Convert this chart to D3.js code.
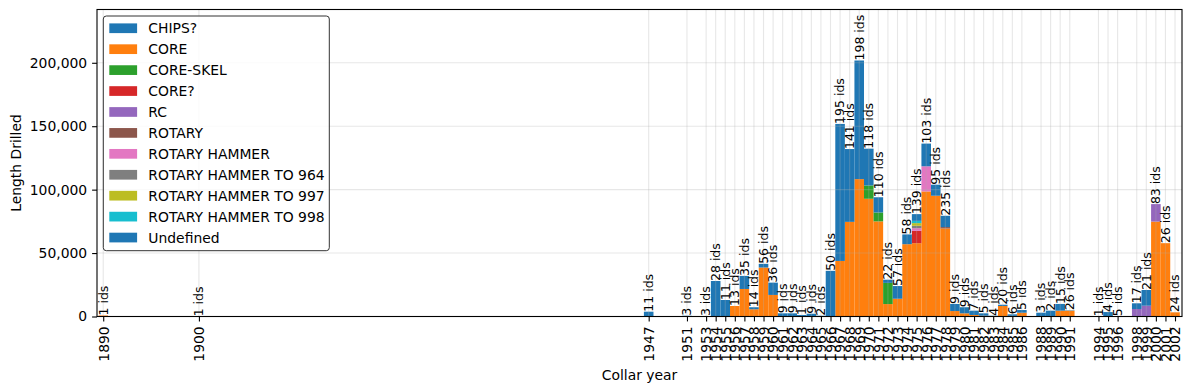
<!DOCTYPE html>
<html>
<head>
<meta charset="utf-8">
<script src="https://cdn.jsdelivr.net/npm/d3@7"></script>
<style>
  body { margin: 0; background: #fff; }
  text { font-family: "DejaVu Sans", sans-serif; }
</style>
</head>
<body>
<div id="chart"></div>
<script>
// collar years that have holes
var years = [1890, 1900, 1947, 1951, 1953, 1954, 1955, 1956, 1957, 1958,
             1959, 1960, 1961, 1962, 1963, 1964, 1965, 1966, 1967, 1968,
             1969, 1970, 1971, 1972, 1973, 1974, 1975, 1976, 1977, 1978,
             1979, 1980, 1981, 1982, 1983, 1984, 1985, 1986, 1988, 1989,
             1990, 1991, 1994, 1995, 1996, 1998, 1999, 2000, 2001, 2002];

// number of hole ids per year
var idCounts = [1, 1, 11, 3, 3, 28, 11, 13, 35, 14,
                56, 36, 9, 9, 1, 9, 2, 50, 195, 141,
                198, 118, 110, 22, 57, 58, 139, 103, 95, 235,
                9, 9, 7, 5, 4, 20, 6, 5, 3, 2,
                15, 26, 1, 4, 5, 17, 21, 83, 26, 24];

var drillTypes = ["CHIPS?", "CORE", "CORE-SKEL", "CORE?", "RC", "ROTARY",
                  "ROTARY HAMMER", "ROTARY HAMMER TO 964", "ROTARY HAMMER TO 997",
                  "ROTARY HAMMER TO 998", "Undefined"];

var typeColors = ["#1f77b4", "#ff7f0e", "#2ca02c", "#d62728", "#9467bd", "#8c564b",
                  "#e377c2", "#7f7f7f", "#bcbd22", "#17becf", "#1f77b4"];

// length drilled per year (same order as years)
var coreLen = [800, 0, 0, 0, 0, 0, 0, 8300, 21700, 5700,
               38600, 17000, 0, 0, 0, 0, 0, 0, 43800, 74600,
               108300, 92800, 75000, 9800, 14000, 57000, 57800, 98600, 95200, 69400,
               4300, 2500, 1200, 600, 0, 8300, 500, 3000, 0, 0,
               4600, 4600, 0, 0, 0, 0, 0, 74800, 57800, 3300];

var undefinedLen = [0, 100, 3800, 600, 300, 28000, 13000, 0, 10300, 1600,
                    2900, 9700, 2500, 2500, 1200, 2200, 600, 36000, 108000, 57400,
                    93500, 29000, 12000, 2500, 10000, 7700, 5300, 17900, 8700, 8900,
                    5600, 4800, 3400, 1900, 600, 1000, 1200, 2100, 3000, 4600,
                    5300, 300, 200, 3500, 200, 4500, 12400, 0, 0, 0];

// the smaller types, by year
var chipsLen = {};
var coreSkelLen = {1970: 10500, 1971: 7000, 1972: 16700};
var coreQLen = {1975: 9700};
var rcLen = {1998: 5900, 1999: 8500, 2000: 13800};
var rotaryLen = {1978: 1100};
var rotaryHammerLen = {1975: 2100, 1976: 19800};
var rh964Len = {1975: 1900};
var rh997Len = {1975: 2100};
var rh998Len = {1975: 1800};

var width = 1191, height = 392;
var plot = {left: 97, right: 1182, top: 9.5, bottom: 316.5};

var svg = d3.select("#chart")
  .append("svg")
  .attr("width", width)
  .attr("height", height);

// build the table for d3.stack
var data = years.map(function(yr, i) {
  var row = {year: yr, ids: idCounts[i]};
  row["CHIPS?"] = chipsLen[yr] || 0;
  row["CORE"] = coreLen[i];
  row["CORE-SKEL"] = coreSkelLen[yr] || 0;
  row["CORE?"] = coreQLen[yr] || 0;
  row["RC"] = rcLen[yr] || 0;
  row["ROTARY"] = rotaryLen[yr] || 0;
  row["ROTARY HAMMER"] = rotaryHammerLen[yr] || 0;
  row["ROTARY HAMMER TO 964"] = rh964Len[yr] || 0;
  row["ROTARY HAMMER TO 997"] = rh997Len[yr] || 0;
  row["ROTARY HAMMER TO 998"] = rh998Len[yr] || 0;
  row["Undefined"] = undefinedLen[i];
  row.total = d3.sum(drillTypes, function(k) { return row[k]; });
  return row;
});

var x = d3.scaleLinear()
  .domain([1889.35, 2002.73])
  .range([plot.left, plot.right]);

var y = d3.scaleLinear()
  .domain([0, 242000])
  .range([plot.bottom, plot.top]);

var stacked = d3.stack().keys(drillTypes)(data);

// bars
svg.append("g")
  .selectAll("g")
  .data(stacked)
  .enter()
  .append("g")
    .attr("fill", function(d, i) { return typeColors[i]; })
  .selectAll("rect")
  .data(function(d) { return d; })
  .enter()
  .append("rect")
    .attr("x", function(d) { return x(d.data.year - 0.5); })
    .attr("width", function(d) { return x(d.data.year + 0.5) - x(d.data.year - 0.5); })
    .attr("y", function(d) { return y(d[1]); })
    .attr("height", function(d) { return y(d[0]) - y(d[1]); });

// grid sits on top of the bars
var grid = svg.append("g")
  .attr("stroke", "#b0b0b0")
  .attr("stroke-opacity", 0.3)
  .attr("stroke-width", 1.1);
grid.selectAll("line.vx")
  .data(years)
  .enter()
  .append("line")
    .attr("x1", function(d) { return x(d); })
    .attr("x2", function(d) { return x(d); })
    .attr("y1", plot.top)
    .attr("y2", plot.bottom);
grid.selectAll("line.hy")
  .data(y.ticks(5))
  .enter()
  .append("line")
    .attr("x1", plot.left)
    .attr("x2", plot.right)
    .attr("y1", function(d) { return y(d); })
    .attr("y2", function(d) { return y(d); });

// x axis
var xAxis = svg.append("g")
  .attr("transform", "translate(0," + plot.bottom + ")")
  .call(d3.axisBottom(x).tickValues(years).tickFormat(d3.format("d")).tickSize(4.9));
xAxis.select(".domain").remove();
xAxis.selectAll("line").attr("stroke", "#000").attr("stroke-width", 1.1);
xAxis.selectAll("text")
  .attr("transform", "rotate(-90)")
  .attr("x", -9.8)
  .attr("y", 0)
  .attr("dy", "0.35em")
  .attr("text-anchor", "end")
  .style("font-size", "13.9px")
  .attr("fill", "#000");

// y axis
var yAxis = svg.append("g")
  .attr("transform", "translate(" + plot.left + ",0)")
  .call(d3.axisLeft(y).ticks(5).tickFormat(d3.format(",")).tickSize(4.9).tickPadding(4.9));
yAxis.select(".domain").remove();
yAxis.selectAll("line").attr("stroke", "#000").attr("stroke-width", 1.1);
yAxis.selectAll("text")
  .style("font-size", "13.9px")
  .attr("fill", "#000");

// frame
svg.append("rect")
  .attr("x", plot.left)
  .attr("y", plot.top)
  .attr("width", plot.right - plot.left)
  .attr("height", plot.bottom - plot.top)
  .attr("fill", "none")
  .attr("stroke", "#000")
  .attr("stroke-width", 1.1);

// "N ids" labels over each bar
svg.append("g")
  .selectAll("text")
  .data(data)
  .enter()
  .append("text")
    .attr("transform", function(d) {
      return "translate(" + x(d.year) + "," + y(d.total) + ") rotate(-90)";
    })
    .attr("dy", "0.35em")
    .attr("text-anchor", "start")
    .style("font-size", "12.5px")
    .text(function(d) { return d.ids + " ids"; });

// axis titles
svg.append("text")
  .attr("x", (plot.left + plot.right) / 2)
  .attr("y", 380)
  .attr("text-anchor", "middle")
  .style("font-size", "13.9px")
  .text("Collar year");

svg.append("text")
  .attr("transform", "translate(21," + ((plot.top + plot.bottom) / 2) + ") rotate(-90)")
  .attr("text-anchor", "middle")
  .style("font-size", "13.9px")
  .text("Length Drilled");

// legend
var legend = svg.append("g");
legend.append("rect")
  .attr("x", 103.3)
  .attr("y", 16)
  .attr("width", 226)
  .attr("height", 234.7)
  .attr("rx", 3)
  .attr("fill", "#fff")
  .attr("fill-opacity", 0.8)
  .attr("stroke", "#333")
  .attr("stroke-width", 1);

var entries = legend.selectAll("g.entry")
  .data(drillTypes)
  .enter()
  .append("g")
    .attr("transform", function(d, i) { return "translate(0," + (28.3 + i * 20.93) + ")"; });
entries.append("rect")
  .attr("x", 109.3)
  .attr("y", -4.9)
  .attr("width", 27.8)
  .attr("height", 9.7)
  .attr("fill", function(d, i) { return typeColors[i]; });
entries.append("text")
  .attr("x", 148.3)
  .attr("dy", "0.36em")
  .style("font-size", "13.9px")
  .text(function(d) { return d; });
</script>
</body>
</html>
